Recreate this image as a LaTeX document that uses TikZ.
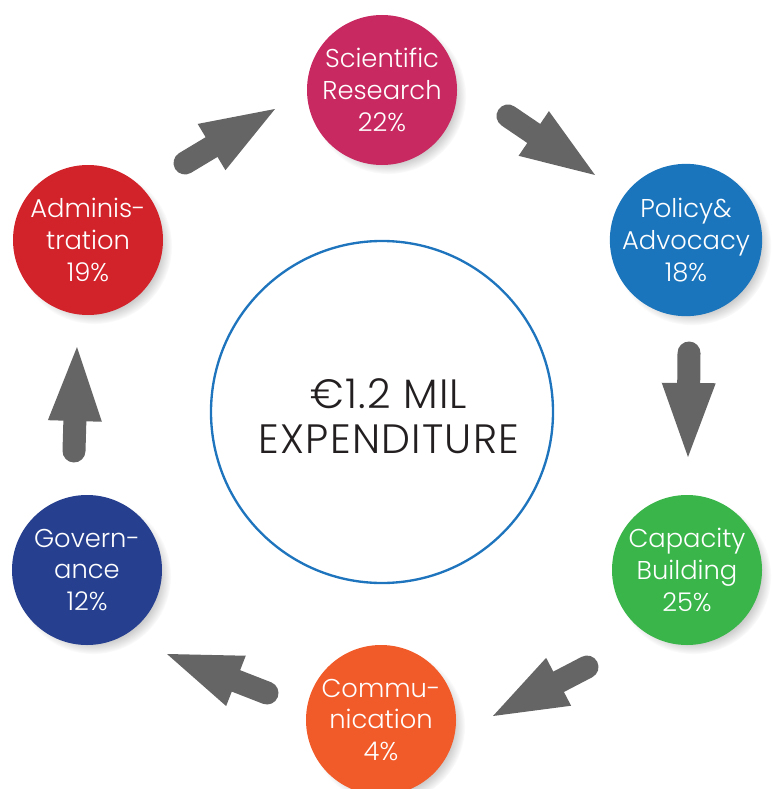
\documentclass[tikz,border=0pt]{standalone}
\usepackage{fontspec}
\setmainfont{Poppins}[UprightFont={* Light}]
\usetikzlibrary{calc,shadows}
\definecolor{sciC}{RGB}{200,41,96}
\definecolor{polC}{RGB}{27,117,188}
\definecolor{capC}{RGB}{57,181,74}
\definecolor{comC}{RGB}{241,90,41}
\definecolor{govC}{RGB}{38,64,143}
\definecolor{admC}{RGB}{210,35,42}
\definecolor{arrowgray}{RGB}{101,101,101}
\definecolor{ringblue}{RGB}{30,117,190}
\definecolor{textdark}{RGB}{35,31,32}
\newcommand\flowarrow[2]{%
  \coordinate (fa-base) at ($(#2)!2.22cm!(#1)$);
  \draw[shaft] (#1) -- (fa-base);
  \fill[head] (#2) -- ($(fa-base)!0.81cm!90:(#2)$) -- ($(fa-base)!0.81cm!-90:(#2)$) -- cycle;}
\begin{document}
\begin{tikzpicture}[x=0.03cm,y=-0.03cm,
  bubble/.style={circle, minimum size=4.5cm, inner sep=0pt, text=white, align=center,
    font=\fontsize{22}{27}\selectfont,
    circular drop shadow={shadow xshift=5pt, shadow yshift=-5pt, opacity=0.4, shadow scale=1.04}},
  shaft/.style={draw=arrowgray, line width=0.69cm, line cap=round},
  head/.style={fill=arrowgray}]
\useasboundingbox (0,0) rectangle (772,789);
\clip (0,0) rectangle (772,789);
\node[circle, draw=ringblue, line width=2pt, minimum size=10.26cm, inner sep=0pt] (mid) at (382,412) {};
\node[align=center, text=textdark, font=\fontsize{35}{38.5}\selectfont\addfontfeatures{LetterSpace=3}] (midtext) at (389,416) {€1.2 MIL\\EXPENDITURE};
\node[bubble, fill=sciC] (sci) at (382,90) {Scientific\\Research\\22\%};
\node[bubble, fill=polC] (pol) at (686,240) {Policy\&\\Advocacy\\18\%};
\node[bubble, fill=capC] (cap) at (687,570) {Capacity\\Building\\25\%};
\node[bubble, fill=comC] (com) at (381,720) {Commu-\\nication\\4\%};
\node[bubble, fill=govC] (gov) at (87,570) {Govern-\\ance\\12\%};
\node[bubble, fill=admC] (adm) at (88,240) {Adminis-\\tration\\19\%};
\coordinate (t1) at (185,163); \coordinate (p1) at (275,109);
\coordinate (t2) at (508,116); \coordinate (p2) at (595,175);
\coordinate (t3) at (689,353); \coordinate (p3) at (688,457);
\coordinate (t4) at (587,667); \coordinate (p4) at (493,716);
\coordinate (t5) at (267,693); \coordinate (p5) at (167,654);
\coordinate (t6) at (74,451);  \coordinate (p6) at (77,347);
\flowarrow{t1}{p1}
\flowarrow{t2}{p2}
\flowarrow{t3}{p3}
\flowarrow{t4}{p4}
\flowarrow{t5}{p5}
\flowarrow{t6}{p6}
\end{tikzpicture}
\end{document}
